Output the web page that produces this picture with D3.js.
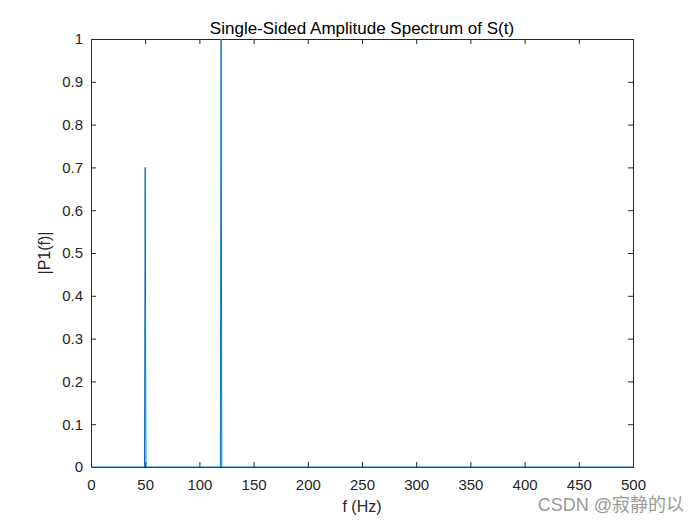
<!DOCTYPE html>
<html>
<head>
<meta charset="utf-8">
<script src="https://cdn.jsdelivr.net/npm/d3@7"></script>
<style>
  body { margin: 0; background: #fff; }
  text { font-family: "Liberation Sans", Arial, sans-serif; }
  .axis path, .axis line { stroke: #262626; }
  .axis text { fill: #262626; font-size: 15px; }
</style>
</head>
<body>
<div id="chart"></div>
<script>
// DATA
// ------------------------------------------------------------------
var freqs = [0, 49.33, 50, 50.67, 119.33, 120, 120.67, 500];
var amps  = [0, 0, 0.7, 0, 0, 1.0, 0, 0];
var xTicks = [0, 50, 100, 150, 200, 250, 300, 350, 400, 450, 500];
var yTicks = [0, 0.1, 0.2, 0.3, 0.4, 0.5, 0.6, 0.7, 0.8, 0.9, 1];

// CANVAS
// ------------------------------------------------------------------
var width = 700,
    height = 525;
var padL = 91, padR = 633, padT = 39, padB = 467;

var svg = d3.select("#chart")
    .append("svg")
    .attr("width", width)
    .attr("height", height);

var xScale = d3.scaleLinear().domain([0, 500]).range([padL, padR]),
    yScale = d3.scaleLinear().domain([0, 1]).range([padB, padT]);

// AXES
// ------------------------------------------------------------------
var fmtY = function(d) { return d === 0 || d === 1 ? d3.format("d")(d) : d3.format(".1f")(d); };

svg.append("g").attr("class", "axis")
    .attr("transform", "translate(0," + padB + ")")
    .call(d3.axisBottom(xScale).tickValues(xTicks).tickSize(-5).tickPadding(12).tickFormat(d3.format("d")));
svg.append("g").attr("class", "axis")
    .attr("transform", "translate(0," + padT + ")")
    .call(d3.axisTop(xScale).tickValues(xTicks).tickSize(-5).tickFormat(""));
svg.append("g").attr("class", "axis")
    .attr("transform", "translate(" + padL + ",0)")
    .call(d3.axisLeft(yScale).tickValues(yTicks).tickSize(-5).tickPadding(8).tickFormat(fmtY));
svg.append("g").attr("class", "axis")
    .attr("transform", "translate(" + padR + ",0)")
    .call(d3.axisRight(yScale).tickValues(yTicks).tickSize(-5).tickFormat(""));

// LINE
// ------------------------------------------------------------------
var data = freqs.map(function(f, i) { return [f, amps[i]]; });
var line = d3.line()
    .x(function(d) { return xScale(d[0]); })
    .y(function(d) { return yScale(d[1]); });

svg.append("path")
    .datum(data)
    .attr("d", line)
    .attr("fill", "none")
    .attr("stroke", "#0072BD")
    .attr("stroke-width", 1);

// LABELS
// ------------------------------------------------------------------
svg.append("text")
    .attr("x", (padL + padR) / 2)
    .attr("y", 34)
    .attr("text-anchor", "middle")
    .style("font-size", "17px")
    .attr("fill", "#000")
    .text("Single-Sided Amplitude Spectrum of S(t)");

svg.append("text")
    .attr("x", (padL + padR) / 2)
    .attr("y", 512)
    .attr("text-anchor", "middle")
    .style("font-size", "16px")
    .attr("fill", "#262626")
    .text("f (Hz)");

svg.append("text")
    .attr("transform", "translate(50," + ((padT + padB) / 2) + ") rotate(-90)")
    .attr("text-anchor", "middle")
    .style("font-size", "16px")
    .attr("fill", "#262626")
    .text("|P1(f)|");

// watermark
svg.append("text")
    .attr("x", 684)
    .attr("y", 511)
    .attr("text-anchor", "end")
    .style("font-size", "18px")
    .style("font-family", "'Liberation Sans', 'Noto Sans CJK SC', sans-serif")
    .attr("fill", "#9a9a9a")
    .text("CSDN @寂静的以");
</script>
</body>
</html>
